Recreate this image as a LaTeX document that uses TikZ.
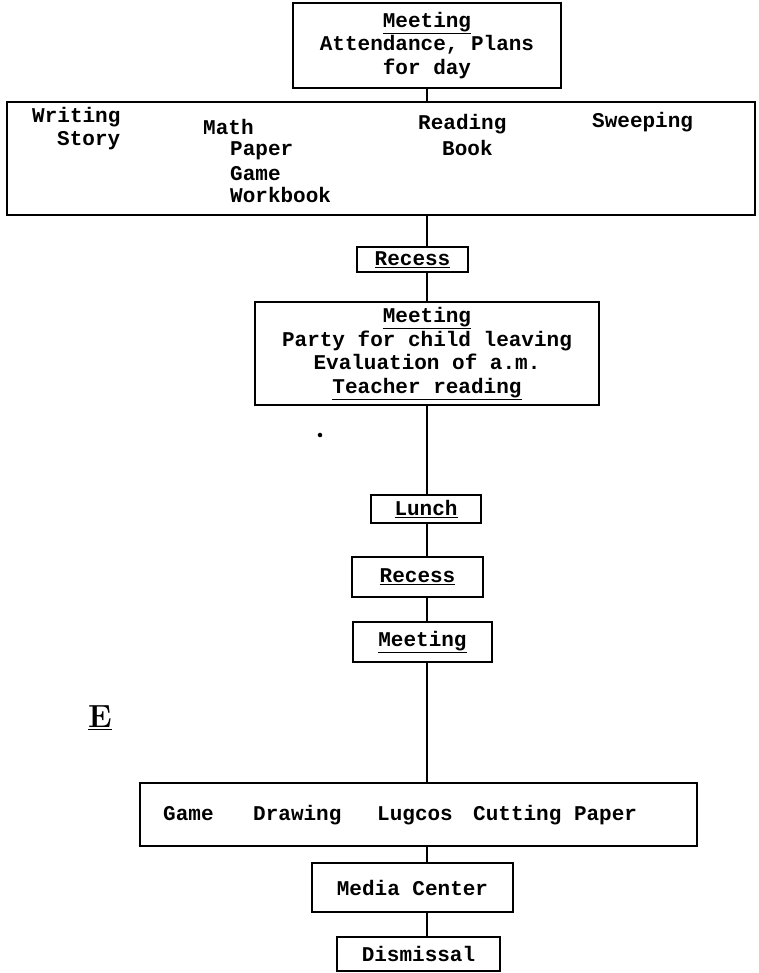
\documentclass[tikz,border=0pt]{standalone}
\usepackage{fontspec}
\setmonofont{Liberation Mono}
\newcommand\twfont{\fontsize{21}{23.5}\selectfont\ttfamily\bfseries}
\tikzset{
  box/.style={draw, line width=2.4pt, inner sep=0pt, align=center, font=\twfont},
  conn/.style={line width=2.2pt},
  lbl/.style={font=\twfont, inner sep=0pt, anchor=base west}
}
\begin{document}
\begin{tikzpicture}[x=1pt,y=-1pt]
\useasboundingbox (0,0) rectangle (758,973);
\coordinate (spine) at (427,0);
% top
\node[box, minimum width=268pt, minimum height=85pt] (top) at (427,45.5) {\underline{Meeting}\\Attendance, Plans\\for day};
% wide activity box
\node[box, minimum width=748pt, minimum height=113pt] (wide) at (381,158.5) {};
\node[lbl] (writing) at (32,123) {Writing};
\node[lbl] (story) at (57,146) {Story};
\node[lbl] (math) at (203,135) {Math};
\node[lbl] (paper) at (230,156) {Paper};
\node[lbl] (game1) at (230,181) {Game};
\node[lbl] (workbook) at (230,203) {Workbook};
\node[lbl] (reading) at (418,130) {Reading};
\node[lbl] (book) at (442,156) {Book};
\node[lbl] (sweeping) at (592,128) {Sweeping};
% recess
\node[box, minimum width=111pt, minimum height=25pt] (recess1) at (412.5,259.5) {\underline{Recess}};
% meeting
\node[box, minimum width=344pt, minimum height=103pt] (meet1) at (427,353.5) {\underline{Meeting}\\Party for child leaving\\Evaluation of a.m.\\\underline{Teacher reading}};
\node[circle, fill, inner sep=1.6pt] (dot) at (320,435) {};
% lunch, recess, meeting
\node[box, minimum width=110pt, minimum height=28pt] (lunch) at (426,509) {\underline{Lunch}};
\node[box, minimum width=131pt, minimum height=40pt] (recess2) at (417.5,577) {\underline{Recess}};
\node[box, minimum width=139pt, minimum height=40pt] (meet2) at (422.5,642) {\underline{Meeting}};
% afternoon activities
\node[box, minimum width=557pt, minimum height=63pt] (act) at (418.5,814.5) {};
\node[lbl] (game2) at (163,820) {Game};
\node[lbl] (drawing) at (253,820) {Drawing};
\node[lbl] (lugcos) at (377,820) {Lugcos};
\node[lbl] (cutting) at (473,820) {Cutting Paper};
\node[box, minimum width=201pt, minimum height=49pt] (media) at (412.5,887.5) {Media Center};
\node[box, minimum width=163pt, minimum height=34pt] (dismiss) at (418.5,954) {Dismissal};
% side mark
\node[font=\fontsize{32}{32}\selectfont\bfseries, inner sep=0pt] (emark) at (100,718) {\underline{E}};
% connectors
\draw[conn] (spine |- top.south) -- (spine |- wide.north);
\draw[conn] (spine |- wide.south) -- (spine |- recess1.north);
\draw[conn] (spine |- recess1.south) -- (spine |- meet1.north);
\draw[conn] (spine |- meet1.south) -- (spine |- lunch.north);
\draw[conn] (spine |- lunch.south) -- (spine |- recess2.north);
\draw[conn] (spine |- recess2.south) -- (spine |- meet2.north);
\draw[conn] (spine |- meet2.south) -- (spine |- act.north);
\draw[conn] (spine |- act.south) -- (spine |- media.north);
\draw[conn] (spine |- media.south) -- (spine |- dismiss.north);
\end{tikzpicture}
\end{document}
